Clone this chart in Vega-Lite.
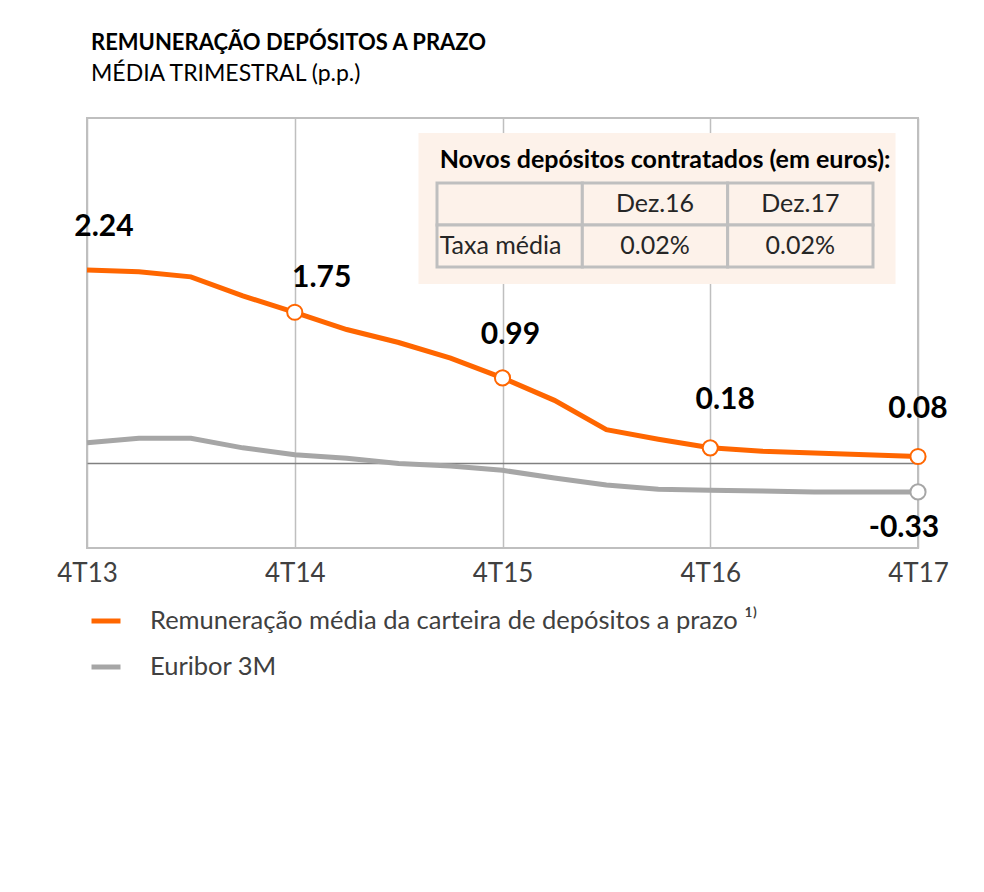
{
  "$schema": "https://vega.github.io/schema/vega-lite/v6.json",
  "autosize": {"type": "none"},
  "padding": {"left": 87, "top": 118, "right": 66, "bottom": 344},
  "width": 831,
  "height": 430,
  "background": "white",
  "title": {
    "text": "REMUNERAÇÃO DEPÓSITOS A PRAZO",
    "subtitle": "MÉDIA TRIMESTRAL (p.p.)",
    "anchor": "start",
    "frame": "group",
    "dx": 4,
    "offset": 31,
    "font": "Lato",
    "fontSize": 22,
    "fontWeight": "bold",
    "color": "#000000",
    "subtitleFont": "Lato",
    "subtitleFontSize": 23,
    "subtitleColor": "#000000",
    "subtitlePadding": 8
  },
  "config": {
    "font": "Lato",
    "view": {"stroke": "#BFBFBF", "strokeWidth": 2},
    "locale": {"number": {"decimal": ".", "thousands": ",", "grouping": [3], "currency": ["$", ""], "minus": "-"}}
  },
  "datasets": {
    "series": [
      {"period": "4T13", "series": "Remuneração média da carteira de depósitos a prazo", "value": 2.24},
      {"period": "1T14", "series": "Remuneração média da carteira de depósitos a prazo", "value": 2.22},
      {"period": "2T14", "series": "Remuneração média da carteira de depósitos a prazo", "value": 2.16},
      {"period": "3T14", "series": "Remuneração média da carteira de depósitos a prazo", "value": 1.94},
      {"period": "4T14", "series": "Remuneração média da carteira de depósitos a prazo", "value": 1.75},
      {"period": "1T15", "series": "Remuneração média da carteira de depósitos a prazo", "value": 1.55},
      {"period": "2T15", "series": "Remuneração média da carteira de depósitos a prazo", "value": 1.40},
      {"period": "3T15", "series": "Remuneração média da carteira de depósitos a prazo", "value": 1.22},
      {"period": "4T15", "series": "Remuneração média da carteira de depósitos a prazo", "value": 0.99},
      {"period": "1T16", "series": "Remuneração média da carteira de depósitos a prazo", "value": 0.73},
      {"period": "2T16", "series": "Remuneração média da carteira de depósitos a prazo", "value": 0.39},
      {"period": "3T16", "series": "Remuneração média da carteira de depósitos a prazo", "value": 0.28},
      {"period": "4T16", "series": "Remuneração média da carteira de depósitos a prazo", "value": 0.18},
      {"period": "1T17", "series": "Remuneração média da carteira de depósitos a prazo", "value": 0.14},
      {"period": "2T17", "series": "Remuneração média da carteira de depósitos a prazo", "value": 0.12},
      {"period": "3T17", "series": "Remuneração média da carteira de depósitos a prazo", "value": 0.10},
      {"period": "4T17", "series": "Remuneração média da carteira de depósitos a prazo", "value": 0.08},
      {"period": "4T13", "series": "Euribor 3M", "value": 0.24},
      {"period": "1T14", "series": "Euribor 3M", "value": 0.29},
      {"period": "2T14", "series": "Euribor 3M", "value": 0.29},
      {"period": "3T14", "series": "Euribor 3M", "value": 0.18},
      {"period": "4T14", "series": "Euribor 3M", "value": 0.10},
      {"period": "1T15", "series": "Euribor 3M", "value": 0.06},
      {"period": "2T15", "series": "Euribor 3M", "value": 0.00},
      {"period": "3T15", "series": "Euribor 3M", "value": -0.03},
      {"period": "4T15", "series": "Euribor 3M", "value": -0.08},
      {"period": "1T16", "series": "Euribor 3M", "value": -0.17},
      {"period": "2T16", "series": "Euribor 3M", "value": -0.25},
      {"period": "3T16", "series": "Euribor 3M", "value": -0.30},
      {"period": "4T16", "series": "Euribor 3M", "value": -0.31},
      {"period": "1T17", "series": "Euribor 3M", "value": -0.32},
      {"period": "2T17", "series": "Euribor 3M", "value": -0.33},
      {"period": "3T17", "series": "Euribor 3M", "value": -0.33},
      {"period": "4T17", "series": "Euribor 3M", "value": -0.33}
    ],
    "cells": [
      {"row": "head", "col": "label", "text": ""},
      {"row": "head", "col": "Dez.16", "text": "Dez.16"},
      {"row": "head", "col": "Dez.17", "text": "Dez.17"},
      {"row": "taxa", "col": "label", "text": "Taxa média"},
      {"row": "taxa", "col": "Dez.16", "text": "0.02%"},
      {"row": "taxa", "col": "Dez.17", "text": "0.02%"}
    ],
    "caption": [
      {"title": "Novos depósitos contratados (em euros):"}
    ]
  },
  "layer": [
    {
      "data": {"name": "series"},
      "encoding": {
        "x": {
          "field": "period",
          "type": "ordinal",
          "sort": null,
          "scale": {
            "type": "point",
            "padding": 0,
            "domain": ["4T13","1T14","2T14","3T14","4T14","1T15","2T15","3T15","4T15","1T16","2T16","3T16","4T16","1T17","2T17","3T17","4T17"]
          },
          "axis": {
            "values": ["4T13","4T14","4T15","4T16","4T17"],
            "title": null,
            "domain": false,
            "ticks": false,
            "grid": true,
            "gridColor": "#BFBFBF",
            "gridWidth": 1.5,
            "labelFont": "Lato",
            "labelFontSize": 26,
            "labelColor": "#404040",
            "labelPadding": 12,
            "labelAngle": 0,
            "labelOverlap": false
          }
        },
        "y": {
          "field": "value",
          "type": "quantitative",
          "scale": {"domain": [-0.98, 4], "nice": false, "zero": false},
          "axis": {
            "values": [0],
            "title": null,
            "labels": false,
            "ticks": false,
            "domain": false,
            "grid": true,
            "gridColor": "#808080",
            "gridWidth": 1.5
          }
        }
      },
      "layer": [
        {
          "transform": [{"filter": "datum.series == 'Euribor 3M'"}],
          "mark": {"type": "line", "strokeWidth": 5},
          "encoding": {
            "color": {
              "field": "series",
              "type": "nominal",
              "scale": {
                "domain": ["Remuneração média da carteira de depósitos a prazo", "Euribor 3M"],
                "range": ["#FF6600", "#A6A6A6"]
              },
              "legend": {
                "orient": "none",
                "legendX": 2,
                "legendY": 486,
                "title": null,
                "padding": 0,
                "symbolType": "stroke",
                "symbolStrokeWidth": 5,
                "symbolSize": 841,
                "labelFont": "Lato",
                "labelFontSize": 25.5,
                "labelColor": "#404040",
                "labelOffset": 27,
                "rowPadding": 15,
                "labelLimit": 800,
                "labelExpr": "datum.label == 'Euribor 3M' ? datum.label : datum.label + ' ¹⁾'"
              }
            }
          }
        },
        {
          "transform": [{"filter": "datum.series != 'Euribor 3M'"}],
          "mark": {"type": "line", "strokeWidth": 5},
          "encoding": {
            "color": {
              "field": "series",
              "type": "nominal",
              "scale": {
                "domain": ["Remuneração média da carteira de depósitos a prazo", "Euribor 3M"],
                "range": ["#FF6600", "#A6A6A6"]
              },
              "legend": {
                "orient": "none",
                "legendX": 2,
                "legendY": 486,
                "title": null,
                "padding": 0,
                "symbolType": "stroke",
                "symbolStrokeWidth": 5,
                "symbolSize": 841,
                "labelFont": "Lato",
                "labelFontSize": 25.5,
                "labelColor": "#404040",
                "labelOffset": 27,
                "rowPadding": 15,
                "labelLimit": 800,
                "labelExpr": "datum.label == 'Euribor 3M' ? datum.label : datum.label + ' ¹⁾'"
              }
            }
          }
        },
        {
          "transform": [{"filter": "(datum.series != 'Euribor 3M' && indexof(['4T14','4T15','4T16','4T17'], datum.period) >= 0) || (datum.series == 'Euribor 3M' && datum.period == '4T17')"}],
          "mark": {"type": "point", "shape": "circle", "size": 230, "fill": "white", "filled": true, "strokeWidth": 2, "opacity": 1},
          "encoding": {
            "stroke": {
              "field": "series",
              "type": "nominal",
              "scale": {
                "domain": ["Remuneração média da carteira de depósitos a prazo", "Euribor 3M"],
                "range": ["#FF6600", "#A6A6A6"]
              },
              "legend": null
            }
          }
        },
        {
          "transform": [{"filter": "datum.series != 'Euribor 3M' && datum.period == '4T13'"}],
          "mark": {"type": "text", "font": "Lato", "fontSize": 30, "fontWeight": "bold", "color": "#000000", "align": "center", "baseline": "middle", "dx": 17, "dy": -43},
          "encoding": {"text": {"field": "value", "type": "quantitative", "format": ".2f"}}
        },
        {
          "transform": [{"filter": "datum.series != 'Euribor 3M' && datum.period == '4T14'"}],
          "mark": {"type": "text", "font": "Lato", "fontSize": 30, "fontWeight": "bold", "color": "#000000", "align": "center", "baseline": "middle", "dx": 27, "dy": -34},
          "encoding": {"text": {"field": "value", "type": "quantitative", "format": ".2f"}}
        },
        {
          "transform": [{"filter": "datum.series != 'Euribor 3M' && datum.period == '4T15'"}],
          "mark": {"type": "text", "font": "Lato", "fontSize": 30, "fontWeight": "bold", "color": "#000000", "align": "center", "baseline": "middle", "dx": 8, "dy": -43},
          "encoding": {"text": {"field": "value", "type": "quantitative", "format": ".2f"}}
        },
        {
          "transform": [{"filter": "datum.series != 'Euribor 3M' && datum.period == '4T16'"}],
          "mark": {"type": "text", "font": "Lato", "fontSize": 30, "fontWeight": "bold", "color": "#000000", "align": "center", "baseline": "middle", "dx": 15, "dy": -48},
          "encoding": {"text": {"field": "value", "type": "quantitative", "format": ".2f"}}
        },
        {
          "transform": [{"filter": "datum.series != 'Euribor 3M' && datum.period == '4T17'"}],
          "mark": {"type": "text", "font": "Lato", "fontSize": 30, "fontWeight": "bold", "color": "#000000", "align": "center", "baseline": "middle", "dx": 0, "dy": -47},
          "encoding": {"text": {"field": "value", "type": "quantitative", "format": ".2f"}}
        },
        {
          "transform": [{"filter": "datum.series == 'Euribor 3M' && datum.period == '4T17'"}],
          "mark": {"type": "text", "font": "Lato", "fontSize": 30, "fontWeight": "bold", "color": "#000000", "align": "center", "baseline": "middle", "dx": -14, "dy": 36},
          "encoding": {"text": {"field": "value", "type": "quantitative", "format": ".2f"}}
        }
      ]
    },
    {
      "encoding": {
        "x": {
          "field": "col",
          "type": "nominal",
          "sort": null,
          "scale": {"type": "band", "domain": ["label", "Dez.16", "Dez.17"], "range": [350, 786], "paddingInner": 0, "paddingOuter": 0},
          "axis": null
        },
        "y": {
          "field": "row",
          "type": "nominal",
          "sort": null,
          "scale": {"type": "band", "domain": ["head", "taxa"], "range": [65, 149], "paddingInner": 0, "paddingOuter": 0},
          "axis": null
        }
      },
      "layer": [
        {
          "data": {"name": "caption"},
          "mark": {"type": "rect", "fill": "#FDF2EA", "width": 477, "height": 151, "xOffset": 2, "yOffset": 4.5},
          "encoding": {
            "x": {"datum": "Dez.16", "type": "nominal"},
            "y": {"datum": "head", "type": "nominal"}
          }
        },
        {
          "data": {"name": "cells"},
          "mark": {"type": "rect", "fill": "#FDF2EA", "stroke": "#BFBFBF", "strokeWidth": 3}
        },
        {
          "data": {"name": "caption"},
          "mark": {"type": "text", "font": "Lato", "fontSize": 25, "fontWeight": "bold", "color": "#000000", "align": "left", "baseline": "middle", "dx": -70, "dy": -44},
          "encoding": {
            "x": {"datum": "label", "type": "nominal"},
            "y": {"datum": "head", "type": "nominal"},
            "text": {"field": "title", "type": "nominal"}
          }
        },
        {
          "data": {"name": "cells"},
          "transform": [{"filter": "datum.col != 'label'"}],
          "mark": {"type": "text", "font": "Lato", "fontSize": 25, "color": "#262626", "align": "center", "baseline": "middle"},
          "encoding": {"text": {"field": "text", "type": "nominal"}}
        },
        {
          "data": {"name": "cells"},
          "transform": [{"filter": "datum.col == 'label'"}],
          "mark": {"type": "text", "font": "Lato", "fontSize": 25, "color": "#262626", "align": "left", "baseline": "middle", "dx": -70},
          "encoding": {"text": {"field": "text", "type": "nominal"}}
        }
      ]
    }
  ],
  "resolve": {"scale": {"x": "independent", "y": "independent"}}
}
